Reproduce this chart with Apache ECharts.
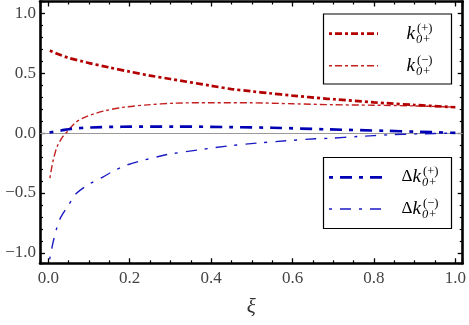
<!DOCTYPE html>
<html>
<head>
<meta charset="utf-8">
<script src="https://cdn.jsdelivr.net/npm/echarts@6/dist/echarts.min.js"></script>
<style>html,body{margin:0;padding:0;background:#fff}#c{width:469px;height:325px}</style>
</head>
<body>
<div id="c"></div>
<script>
// x values (xi) and series values
const kPlusX   = [0.004, 0.02, 0.05, 0.086, 0.1, 0.15, 0.2, 0.25, 0.3, 0.4, 0.45, 0.5, 0.543, 0.6, 0.68, 0.7, 0.8, 0.83, 0.9, 1.0];
const kPlusY   = [0.69, 0.665, 0.628, 0.597, 0.585, 0.548, 0.513, 0.48, 0.452, 0.395, 0.368, 0.349, 0.333, 0.313, 0.288, 0.283, 0.257, 0.25, 0.235, 0.216];

const kMinusX  = [0.004, 0.0115, 0.022, 0.036, 0.047, 0.065, 0.085, 0.11, 0.138, 0.187, 0.244, 0.31, 0.4, 0.5, 0.6, 0.7, 0.8, 0.9, 1.0];
const kMinusY  = [-0.375, -0.236, -0.111, -0.028, 0.014, 0.083, 0.125, 0.158, 0.186, 0.217, 0.236, 0.25, 0.254, 0.253, 0.245, 0.237, 0.233, 0.227, 0.217];

const dkPlusX  = [0.003, 0.032, 0.056, 0.105, 0.18, 0.31, 0.45, 0.55, 0.69, 0.83, 0.9, 1.0];
const dkPlusY  = [0.005, 0.022, 0.036, 0.047, 0.053, 0.055, 0.05, 0.045, 0.031, 0.019, 0.012, 0.002];

const dkMinusX = [0.0034, 0.0115, 0.0197, 0.03, 0.05, 0.0686, 0.101, 0.134, 0.163, 0.195, 0.232, 0.281, 0.3, 0.371, 0.445, 0.514, 0.584, 0.657, 0.69, 0.763, 0.837, 0.91, 1.0];
const dkMinusY = [-1.055, -0.917, -0.806, -0.708, -0.6, -0.505, -0.425, -0.367, -0.311, -0.264, -0.228, -0.187, -0.174, -0.139, -0.106, -0.083, -0.064, -0.047, -0.043, -0.028, -0.014, -0.006, 0.0];

const xRange = [-0.0203, 1.018];
const yRange = [-1.087, 1.099];
const axisTitle = 'ξ';

const zip = (xs, ys) => xs.map((x, i) => [x, ys[i]]);
const fmt = v => (v < 0 ? '\u2212' : '') + Math.abs(v).toFixed(1);

const SERIF = 'Liberation Serif';
const RED = '#b20000', RED2 = '#c41e1e', BLUE = '#0000b4', BLUE2 = '#1a1ac4';

const baseX = {
  type: 'value', min: xRange[0], max: xRange[1], splitNumber: 5,
  splitLine: {show: false},
  axisLine: {show: true, onZero: false, lineStyle: {color: '#000', width: 2.6}},
  axisTick: {show: true, inside: true, length: 5, lineStyle: {color: '#000', width: 1.3}},
  minorTick: {show: true, splitNumber: 4, length: 3, lineStyle: {color: '#000', width: 1.2}},
  minorSplitLine: {show: false}
};
const baseY = {
  type: 'value', min: yRange[0], max: yRange[1], splitNumber: 5,
  splitLine: {show: false},
  axisLine: {show: true, onZero: false, lineStyle: {color: '#000', width: 2.6}},
  axisTick: {show: true, inside: true, length: 5, lineStyle: {color: '#000', width: 1.3}},
  minorTick: {show: true, splitNumber: 5, length: 3, lineStyle: {color: '#000', width: 1.2}},
  minorSplitLine: {show: false}
};

const chart = echarts.init(document.getElementById('c'), null, {renderer: 'canvas'});

function legendText(x, y, delta, sup) {
  const els = [];
  let kx = x;
  if (delta) {
    els.push({type: 'text', x: x, y: y, z: 100,
      style: {text: 'Δ', fontFamily: SERIF, fontSize: 17, fill: '#000', align: 'left', verticalAlign: 'middle'}});
    kx = x + 11;
  }
  els.push({type: 'text', x: kx, y: y, z: 100,
    style: {text: 'k', fontFamily: SERIF, fontStyle: 'italic', fontSize: 19, fill: '#000', align: 'left', verticalAlign: 'middle'}});
  els.push({type: 'text', x: kx + 10.5, y: y - 5.5, z: 100,
    style: {text: sup, fontFamily: SERIF, fontSize: 12.5, fill: '#000', align: 'left', verticalAlign: 'middle'}});
  els.push({type: 'text', x: kx + 9.5, y: y + 5.5, z: 100,
    style: {text: '0+', fontFamily: SERIF, fontStyle: 'italic', fontSize: 12.5, fill: '#000', align: 'left', verticalAlign: 'middle'}});
  return els;
}

const graphics = [
  {type: 'rect', shape: {x: 323.5, y: 14, width: 128, height: 70}, z: 90,
   style: {fill: '#fff', stroke: '#000', lineWidth: 1.2}},
  {type: 'rect', shape: {x: 323.5, y: 157.5, width: 128, height: 71}, z: 90,
   style: {fill: '#fff', stroke: '#000', lineWidth: 1.2}},
  {type: 'line', shape: {x1: 329, y1: 33.7, x2: 378, y2: 33.7}, z: 95,
   style: {stroke: RED, lineWidth: 2.7, lineDash: [3, 3, 7, 3]}},
  {type: 'line', shape: {x1: 329, y1: 65.7, x2: 378, y2: 65.7}, z: 95,
   style: {stroke: RED2, lineWidth: 1.4, lineDash: [3, 3, 7, 3]}},
  {type: 'line', shape: {x1: 329, y1: 177.3, x2: 382, y2: 177.3}, z: 95,
   style: {stroke: BLUE, lineWidth: 2.7, lineDash: [4, 7, 12, 7]}},
  {type: 'line', shape: {x1: 329, y1: 209, x2: 382, y2: 209}, z: 95,
   style: {stroke: BLUE2, lineWidth: 1.4, lineDash: [3, 8, 11, 8]}},
  ...legendText(406.5, 34, false, '(+)'),
  ...legendText(406.5, 66, false, '(\u2212)'),
  ...legendText(401.5, 177, true, '(+)'),
  ...legendText(401.5, 209, true, '(\u2212)')
];

chart.setOption({
  animation: false,
  backgroundColor: '#fff',
  grid: {left: 40, right: 5, top: 1.5, bottom: 61.7, containLabel: false},
  xAxis: [
    Object.assign({}, baseX, {
      position: 'bottom',
      name: axisTitle, nameLocation: 'middle', nameGap: 34,
      nameTextStyle: {fontFamily: SERIF, fontStyle: 'italic', fontSize: 21, color: '#333'},
      axisLabel: {show: true, margin: 7, fontFamily: SERIF, fontSize: 17, color: '#444',
        showMinLabel: false, showMaxLabel: false, formatter: fmt}
    }),
    Object.assign({}, baseX, {position: 'top', axisLabel: {show: false}})
  ],
  yAxis: [
    Object.assign({}, baseY, {
      position: 'left',
      axisLabel: {show: true, margin: 4, fontFamily: SERIF, fontSize: 17, color: '#444',
        showMinLabel: false, showMaxLabel: false, formatter: fmt}
    }),
    Object.assign({}, baseY, {position: 'right', axisLabel: {show: false}})
  ],
  series: [
    {type: 'line', data: zip(kPlusX, kPlusY), showSymbol: false, smooth: 0.3, z: 5,
     lineStyle: {color: RED, width: 2.7, type: [3, 3, 7, 3]},
     markLine: {silent: true, symbol: 'none', label: {show: false}, z: 1,
       lineStyle: {color: '#999', width: 1, type: 'solid'}, data: [{yAxis: 0}]}},
    {type: 'line', data: zip(kMinusX, kMinusY), showSymbol: false, smooth: 0.3, z: 4,
     lineStyle: {color: RED2, width: 1.4, type: [3, 3, 7, 3]}},
    {type: 'line', data: zip(dkPlusX, dkPlusY), showSymbol: false, smooth: 0.3, z: 5,
     lineStyle: {color: BLUE, width: 2.7, type: [4, 7, 12, 7]}},
    {type: 'line', data: zip(dkMinusX, dkMinusY), showSymbol: false, smooth: 0.3, z: 4,
     lineStyle: {color: BLUE2, width: 1.4, type: [3, 8, 11, 8]}}
  ],
  graphic: graphics
});
</script>
</body>
</html>
